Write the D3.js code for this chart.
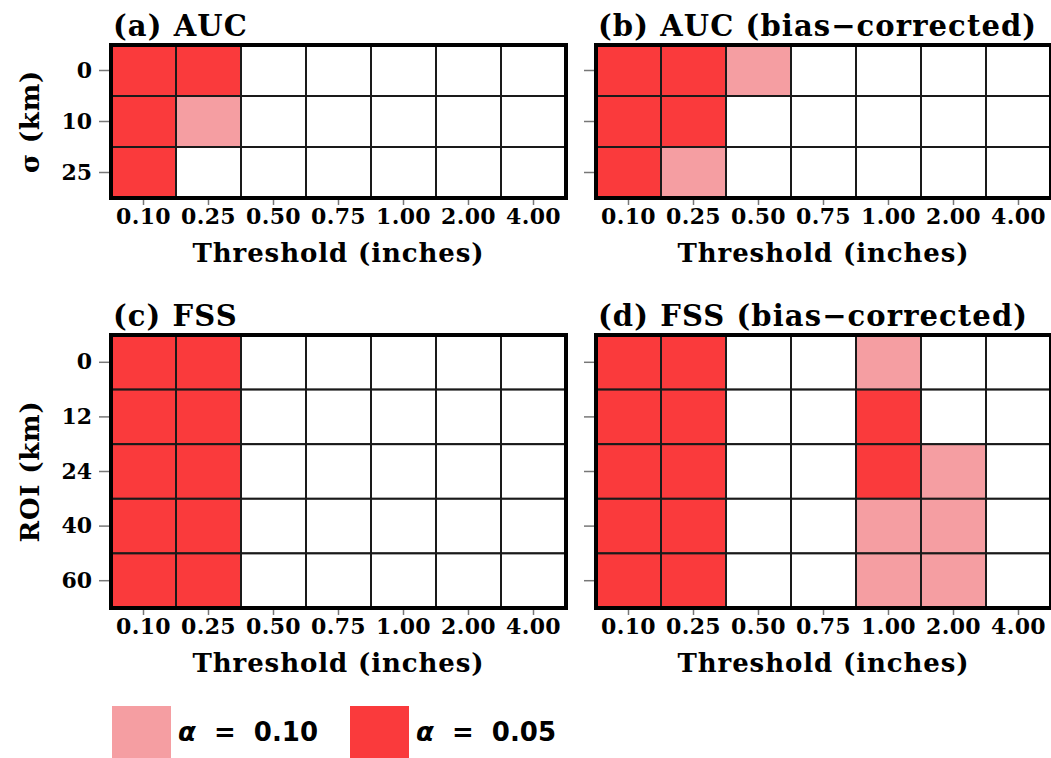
<!DOCTYPE html>
<html>
<head>
<meta charset="utf-8">
<script src="https://cdn.jsdelivr.net/npm/d3@7"></script>
<style>
  body { margin: 0; background: #ffffff; }
  svg { display: block; }
</style>
</head>
<body>
<div id="chart"></div>
<script>
// thresholds (inches) along x
var thresholds = ['0.10', '0.25', '0.50', '0.75', '1.00', '2.00', '4.00'];
// row labels
var sigmaKm = ['0', '10', '25'];
var roiKm = ['0', '12', '24', '40', '60'];

// significance: 0 = none, 1 = alpha 0.10, 2 = alpha 0.05
var aucSig = [
    [2, 2, 0, 0, 0, 0, 0],
    [2, 1, 0, 0, 0, 0, 0],
    [2, 0, 0, 0, 0, 0, 0]
];
var aucBcSig = [
    [2, 2, 1, 0, 0, 0, 0],
    [2, 2, 0, 0, 0, 0, 0],
    [2, 1, 0, 0, 0, 0, 0]
];
var fssSig = [
    [2, 2, 0, 0, 0, 0, 0],
    [2, 2, 0, 0, 0, 0, 0],
    [2, 2, 0, 0, 0, 0, 0],
    [2, 2, 0, 0, 0, 0, 0],
    [2, 2, 0, 0, 0, 0, 0]
];
var fssBcSig = [
    [2, 2, 0, 0, 1, 0, 0],
    [2, 2, 0, 0, 2, 0, 0],
    [2, 2, 0, 0, 2, 1, 0],
    [2, 2, 0, 0, 1, 1, 0],
    [2, 2, 0, 0, 1, 1, 0]
];

var legendLabels = ['\u03b1 = 0.10', '\u03b1 = 0.05'];
var sigColors = ['#ffffff', '#f59ea2', '#fa3a3c'];

var width = 1051;
var height = 758;
var serif = '"DejaVu Serif", serif';

var svg = d3.select('#chart').append('svg')
    .attr('width', width)
    .attr('height', height);

var panels = [
    {title: '(a) AUC', x: 111, y: 45, h: 153, rows: sigmaKm, data: aucSig, ylab: '\u03c3 (km)'},
    {title: '(b) AUC (bias\u2212corrected)', x: 596, y: 45, h: 153, rows: sigmaKm, data: aucBcSig, ylab: null},
    {title: '(c) FSS', x: 111, y: 335, h: 273, rows: roiKm, data: fssSig, ylab: 'ROI (km)'},
    {title: '(d) FSS (bias\u2212corrected)', x: 596, y: 335, h: 273, rows: roiKm, data: fssBcSig, ylab: null}
];
var panelW = 455;

panels.forEach(function (p) {
    var g = svg.append('g').attr('transform', 'translate(' + p.x + ',' + p.y + ')');

    var x = d3.scaleBand().domain(thresholds).range([0, panelW]);
    var y = d3.scaleBand().domain(p.rows).range([0, p.h]);

    // flatten the cells
    var cells = [];
    p.data.forEach(function (row, i) {
        row.forEach(function (v, j) {
            cells.push({row: p.rows[i], col: thresholds[j], v: v});
        });
    });

    g.selectAll('.cell')
        .data(cells)
        .enter().append('rect')
        .attr('x', function (d) { return x(d.col); })
        .attr('y', function (d) { return y(d.row); })
        .attr('width', x.bandwidth())
        .attr('height', y.bandwidth())
        .attr('fill', function (d) { return sigColors[d.v]; })
        .attr('stroke', '#1a1a1a')
        .attr('stroke-width', 2);

    // outer frame
    g.append('rect')
        .attr('width', panelW)
        .attr('height', p.h)
        .attr('fill', 'none')
        .attr('stroke', '#000')
        .attr('stroke-width', 4);

    // x axis
    var xAxis = g.append('g')
        .attr('transform', 'translate(0,' + (p.h + 2) + ')')
        .call(d3.axisBottom(x).tickSize(5).tickSizeOuter(0));
    xAxis.select('.domain').remove();
    xAxis.selectAll('line').attr('stroke', '#777').attr('stroke-width', 1.5);
    xAxis.selectAll('text')
        .attr('y', 17)
        .attr('dy', '0.32em')
        .style('font-family', serif)
        .style('font-weight', 'bold')
        .style('font-size', '22px')
        .style('letter-spacing', '0.3px')
        .attr('fill', '#000');

    g.append('text')
        .attr('x', panelW / 2)
        .attr('y', p.h + 55)
        .attr('dy', '0.35em')
        .style('text-anchor', 'middle')
        .style('font-family', serif)
        .style('font-weight', 'bold')
        .style('font-size', '26px')
        .style('letter-spacing', '0.9px')
        .text('Threshold (inches)');

    // y axis
    var yAxis = g.append('g')
        .attr('transform', 'translate(-2,0)')
        .call(d3.axisLeft(y).tickSize(10).tickSizeOuter(0));
    yAxis.select('.domain').remove();
    yAxis.selectAll('line').attr('stroke', '#777').attr('stroke-width', 1.5);
    yAxis.selectAll('text')
        .attr('x', -17)
        .style('font-family', serif)
        .style('font-weight', 'bold')
        .style('font-size', '22px')
        .attr('fill', '#000');
    if (!p.ylab) {
        yAxis.selectAll('text').remove();
    } else {
        g.append('text')
            .attr('transform', 'translate(' + (30 - p.x) + ',' + (p.h / 2) + ') rotate(-90)')
            .attr('dy', '0.35em')
            .style('text-anchor', 'middle')
            .style('font-family', serif)
            .style('font-weight', 'bold')
            .style('font-size', '26px')
            .style('letter-spacing', '0.8px')
            .text(p.ylab);
    }

    // panel title
    g.append('text')
        .attr('x', 2)
        .attr('y', -9)
        .style('font-family', serif)
        .style('font-weight', 'bold')
        .style('font-size', '29px')
        .style('letter-spacing', '1.1px')
        .text(p.title);
});

// legend
var legend = svg.append('g').attr('transform', 'translate(112,706)');
var legendX = d3.scaleBand().domain(legendLabels).range([0, 476]);
legendLabels.forEach(function (lab, i) {
    var lx = legendX(lab);
    legend.append('rect')
        .attr('x', lx)
        .attr('y', 0)
        .attr('width', 59)
        .attr('height', 56)
        .attr('fill', sigColors[i + 1]);
    var t = legend.append('text')
        .attr('x', lx + 66)
        .attr('y', 26)
        .attr('dy', '0.35em')
        .style('font-family', '"DejaVu Sans", sans-serif')
        .style('font-weight', 'bold')
        .style('font-size', '26px');
    t.append('tspan').style('font-style', 'italic').text(lab.slice(0, 1));
    t.append('tspan').attr('xml:space', 'preserve').text(lab.slice(1).replace(' = ', '  =  '));
});
</script>
</body>
</html>
